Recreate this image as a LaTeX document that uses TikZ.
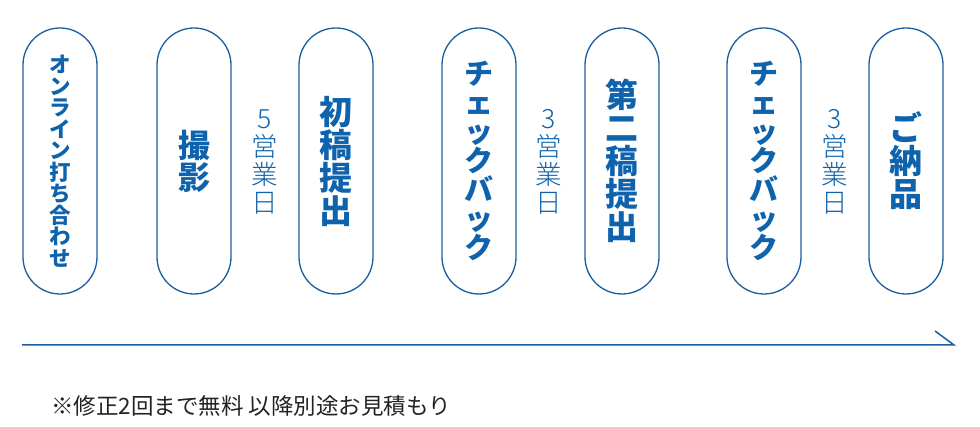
\documentclass[tikz,border=0pt]{standalone}
\usepackage{fontspec}
\newfontfamily\cjk{Noto Sans CJK JP}
\newfontfamily\cjklight{Noto Sans CJK JP Light}
\definecolor{pillline}{HTML}{1B5E9E}
\definecolor{pilltext}{HTML}{0F63AD}
\definecolor{notetext}{HTML}{222222}
\begin{document}
\begin{tikzpicture}[x=1pt,y=-1pt,
  pill/.style={draw=pillline,line width=1.3pt,rounded corners=37pt,minimum width=74pt,minimum height=266pt,inner sep=0pt,anchor=center},
  vtext/.style={text=pilltext,align=center,inner sep=0pt,font=\cjk\bfseries\fontsize{#1}{#1}\selectfont},
  days/.style={text=pilltext,align=center,inner sep=0pt,font=\cjklight\fontsize{26.5}{28}\selectfont},
  timeline/.style={draw=pillline,line width=1.5pt}]
\useasboundingbox (0,0) rectangle (980,427);
% pills
\node[pill] (p1) at (60,161) {};
\node[pill] (p2) at (194,161) {};
\node[pill] (p3) at (336,161) {};
\node[pill] (p4) at (479,161) {};
\node[pill] (p5) at (622,161) {};
\node[pill] (p6) at (764,161) {};
\node[pill] (p7) at (906,161) {};
% pill texts
\node[vtext=21.5] (t1) at (p1) {オ\\ン\\ラ\\イ\\ン\\打\\ち\\合\\わ\\せ};
\node[vtext=32] (t2) at (p2) {撮\\影};
\node[vtext=33] (t3) at (p3) {初\\稿\\提\\出};
\node[vtext=29] (t4) at (p4) {チ\\ェ\\ッ\\ク\\バ\\ッ\\ク};
\node[vtext=33] (t5) at (p5) {第\\二\\稿\\提\\出};
\node[vtext=29] (t6) at (p6) {チ\\ェ\\ッ\\ク\\バ\\ッ\\ク};
\node[vtext=33] (t7) at (p7) {ご\\納\\品};
% day labels
\node[days] (d1) at (265,162) {5\\営\\業\\日};
\node[days] (d2) at (549,162) {3\\営\\業\\日};
\node[days] (d3) at (835,162) {3\\営\\業\\日};
% timeline
\coordinate (ls) at (22,345);
\coordinate (le) at (954,345);
\coordinate (lh) at (935,331);
\draw[timeline] (ls) -- (le) -- (lh);
% note
\node[anchor=west,inner sep=0pt,text=notetext,font=\cjk\fontsize{22.5}{25}\selectfont] (note) at (51,406) {※修正2回まで無料 以降別途お見積もり};
\end{tikzpicture}
\end{document}
